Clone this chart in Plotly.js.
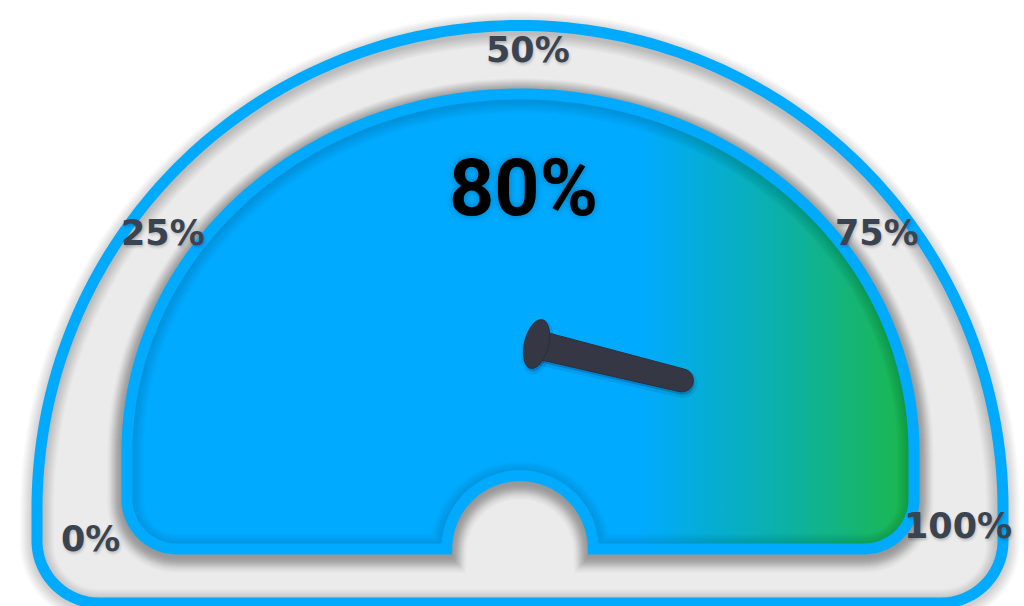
<!DOCTYPE html>
<html>
<head>
<meta charset="utf-8">
<script src="https://cdn.plot.ly/plotly-3.0.1.min.js"></script>
<style>
  html, body { margin: 0; padding: 0; background: #ffffff; }
  #chart { width: 1024px; height: 606px; }
</style>
</head>
<body>
<div id="chart"></div>
<script>
// ---- data ----
const gaugeValue = [80];
const tickValues = [0, 25, 50, 75, 100];
const tickLabels = ['0%', '25%', '50%', '75%', '100%'];

// ---- layout placement (style) ----
const labelPlacement = [[90, 539], [163, 233], [528, 50], [877, 233], [958, 526]];

const W = 1024, H = 606;
const BLUE = '#00aaff';
const GRAY = '#ebebeb';

function arc(cx, cy, rx, ry, a0, a1, n) {
  const pts = [];
  for (let i = 0; i <= n; i++) {
    const a = (a0 + (a1 - a0) * i / n) * Math.PI / 180;
    pts.push([cx + rx * Math.cos(a), cy + ry * Math.sin(a)]);
  }
  return pts;
}
function toPath(pts, dx, dy) {
  dx = dx || 0; dy = dy || 0;
  return 'M' + pts.map(p => (p[0] + dx).toFixed(2) + ',' + (p[1] + dy).toFixed(2)).join('L') + 'Z';
}

// outer arch (stroke centerline)
const outerPts = [].concat(
  arc(520, 508.5, 483, 483, 180, 360, 160),
  arc(941, 541, 62, 62, 0, 90, 24),
  arc(99, 541, 62, 62, 90, 180, 24)
);
// inner arch with bottom cutout
const innerPts = [].concat(
  arc(520.5, 452, 393.5, 358, 180, 360, 160),
  arc(864, 499, 50, 50, 0, 90, 20),
  arc(520, 549, 73.3, 73.3, 360, 180, 48),
  arc(177, 499, 50, 50, 90, 180, 20)
);
const outerPath = toPath(outerPts);
const innerPath = toPath(innerPts);

// needle geometry
const ang = 13.9 * Math.PI / 180;
const d = [Math.cos(ang), Math.sin(ang)];
const nv = [-Math.sin(ang), Math.cos(ang)];
const B = [545, 346.5], Lr = 141, w0 = 14, w1 = 11.5;
const E = [B[0] + d[0] * Lr, B[1] + d[1] * Lr];
const rodPts = [[B[0] + nv[0] * w0, B[1] + nv[1] * w0]];
for (let i = 0; i <= 20; i++) {
  const t = (90 - 180 * i / 20) * Math.PI / 180;
  rodPts.push([E[0] + w1 * (nv[0] * Math.sin(t) + d[0] * Math.cos(t)),
               E[1] + w1 * (nv[1] * Math.sin(t) + d[1] * Math.cos(t))]);
}
rodPts.push([B[0] - nv[0] * w0, B[1] - nv[1] * w0]);
const C = [536.5, 344];
const headPts = [];
for (let i = 0; i < 48; i++) {
  const t = 2 * Math.PI * i / 48;
  headPts.push([C[0] + 25 * nv[0] * Math.cos(t) + 12 * d[0] * Math.sin(t),
                C[1] + 25 * nv[1] * Math.cos(t) + 12 * d[1] * Math.sin(t)]);
}

function softStroke(pts, dx, dy, wMin, wMax, step, alpha, layer) {
  const out = [];
  for (let w = wMax; w >= wMin; w -= step) {
    out.push({type: 'path', path: toPath(pts, dx, dy), fillcolor: 'rgba(0,0,0,0)',
      line: {color: 'rgba(0,0,0,' + alpha + ')', width: w}, layer: layer});
  }
  return out;
}

let shapes = [];
// gray band fill
shapes.push({type: 'path', path: outerPath, fillcolor: GRAY, line: {width: 0}, layer: 'below'});
// soft shadow around outer border
shapes = shapes.concat(softStroke(outerPts, 0, 3, 12, 34, 2, 0.014, 'below'));
// shadow cast by inner arch onto gray band
shapes = shapes.concat(softStroke(innerPts, 0, 4, 12, 40, 2, 0.016, 'below'));
// inner shadow inside coloured face
shapes = shapes.concat(softStroke(innerPts, 0, 2, 12, 34, 2, 0.013, 'above'));
// blue borders
shapes.push({type: 'path', path: outerPath, fillcolor: 'rgba(0,0,0,0)', line: {color: BLUE, width: 11}, layer: 'above'});
shapes.push({type: 'path', path: innerPath, fillcolor: 'rgba(0,0,0,0)', line: {color: BLUE, width: 11}, layer: 'above'});
// needle shadow + needle
shapes.push({type: 'path', path: toPath(rodPts, 1, 3), fillcolor: 'rgba(0,0,40,0.18)', line: {color: 'rgba(0,0,40,0.08)', width: 6}, layer: 'above'});
shapes.push({type: 'path', path: toPath(headPts, 1, 3), fillcolor: 'rgba(0,0,40,0.18)', line: {color: 'rgba(0,0,40,0.08)', width: 6}, layer: 'above'});
shapes.push({type: 'path', path: toPath(rodPts), fillcolor: '#353744', line: {color: '#2c2e3a', width: 1}, layer: 'above'});
shapes.push({type: 'path', path: toPath(headPts), fillcolor: '#353744', line: {color: '#2c2e3a', width: 1}, layer: 'above'});

const traces = [{
  type: 'scatter',
  x: innerPts.map(p => p[0]),
  y: innerPts.map(p => p[1]),
  mode: 'none',
  fill: 'toself',
  fillgradient: {
    type: 'horizontal',
    start: 640, stop: 912,
    colorscale: [[0, '#00aaff'], [0.5, '#0bb0ac'], [1, '#1cb84a']]
  },
  hoverinfo: 'skip',
  showlegend: false
}];

const annotations = tickLabels.map((t, i) => ({
  x: labelPlacement[i][0], y: labelPlacement[i][1],
  xref: 'x', yref: 'y', text: t, showarrow: false,
  xanchor: 'center', yanchor: 'middle',
  font: {family: 'DejaVu Sans', size: 35, weight: 700, color: '#3a4450',
         shadow: '1px 2px 3px rgba(0,0,0,0.2)'}
}));
annotations.push({
  x: 523, y: 188, xref: 'x', yref: 'y',
  text: gaugeValue[0] + '%', showarrow: false,
  xanchor: 'center', yanchor: 'middle',
  font: {family: 'Roboto', size: 79, weight: 700, color: '#000000',
         shadow: '0px 0px 7px rgba(0,0,0,0.3)'}
});

const layout = {
  width: W, height: H,
  margin: {l: 0, r: 0, t: 0, b: 0, pad: 0},
  paper_bgcolor: '#ffffff', plot_bgcolor: '#ffffff',
  xaxis: {range: [0, W], visible: false, fixedrange: true, showgrid: false, zeroline: false},
  yaxis: {range: [H, 0], visible: false, fixedrange: true, showgrid: false, zeroline: false},
  shapes: shapes,
  annotations: annotations,
  showlegend: false
};

Plotly.newPlot('chart', traces, layout, {staticPlot: true, displayModeBar: false});
</script>
</body>
</html>
